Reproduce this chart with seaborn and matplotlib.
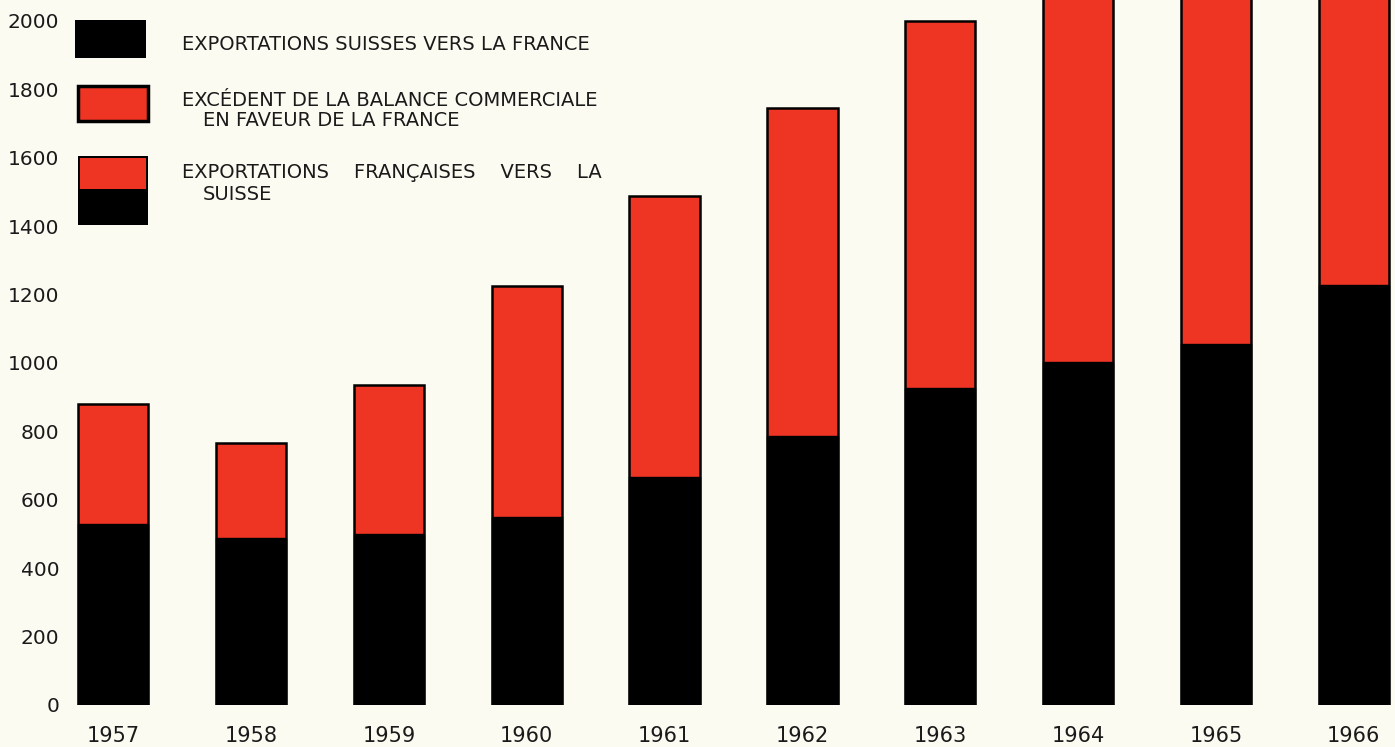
import numpy as np
import pandas as pd
import seaborn as sns
import matplotlib.pyplot as plt
from matplotlib.patches import Rectangle

# Swiss/French trade, millions
years = ["1957", "1958", "1959", "1960", "1961", "1962", "1963", "1964", "1965", "1966"]
swiss_exports = [528, 488, 500, 550, 667, 787, 927, 1003, 1055, 1228]
french_exports = [880, 766, 936, 1225, 1488, 1746, 2000, 2250, 2320, 2480]

yticks = [0, 200, 400, 600, 800, 1000, 1200, 1400, 1600, 1800, 2000]

legend_lines = ["EXPORTATIONS SUISSES VERS LA FRANCE",
                "EXCÉDENT DE LA BALANCE COMMERCIALE",
                "EN FAVEUR DE LA FRANCE",
                "EXPORTATIONS    FRANÇAISES    VERS    LA",
                "SUISSE"]

df = pd.DataFrame({"year": years, "swiss": swiss_exports, "french": french_exports})

RED = "#ee3524"
BG = "#fcfbf2"

sns.set_style("white")
plt.rcParams['font.family'] = ['DejaVu Sans']

fig = plt.figure(figsize=(13.95, 7.47), dpi=100, facecolor=BG)
ax = fig.add_axes([65 / 1395, 42 / 747, 1330 / 1395, 705 / 747])
ax.set_facecolor(BG)

# total (french exports) in red with black outline, swiss exports in black on top
sns.barplot(data=df, x="year", y="french", color=RED, saturation=1,
            edgecolor="black", linewidth=1.8, width=0.51, ax=ax)
sns.barplot(data=df, x="year", y="swiss", color="black", saturation=1,
            edgecolor="black", linewidth=1, width=0.51, ax=ax)

ax.set_xlim(-0.35, 9.30)
ax.set_ylim(0, 2061)
ax.set_yticks(yticks)
ax.set_yticklabels([str(v) for v in yticks])
ax.set_xlabel("")
ax.set_ylabel("")
sns.despine(ax=ax, left=True, bottom=True)
ax.tick_params(axis="y", length=0, pad=4, labelsize=14.5, colors="#1a1a1a")
ax.tick_params(axis="x", length=0, pad=15, labelsize=15, colors="#1a1a1a")

# hand-drawn legend block in upper left
def box(x0, y0, x1, y1, color, lw=0):
    fig.patches.append(Rectangle((x0 / 1395, 1 - y1 / 747), (x1 - x0) / 1395, (y1 - y0) / 747,
                                 transform=fig.transFigure, facecolor=color,
                                 edgecolor="black", linewidth=lw, zorder=5))

box(75, 20, 146, 58, "black")
box(78, 86, 148, 121, RED, lw=2.5)
box(78, 156, 148, 225, "black")
box(80, 158, 146, 189, RED)

line_x = [182, 182, 203, 182, 203]
line_y = [45, 100, 120, 172, 194]
for line, x, y in zip(legend_lines, line_x, line_y):
    fig.text(x / 1395, 1 - y / 747, line, fontsize=14, color="#1a1a1a",
             va="center", ha="left")

fig.savefig("out.png", dpi=100, facecolor=BG)
